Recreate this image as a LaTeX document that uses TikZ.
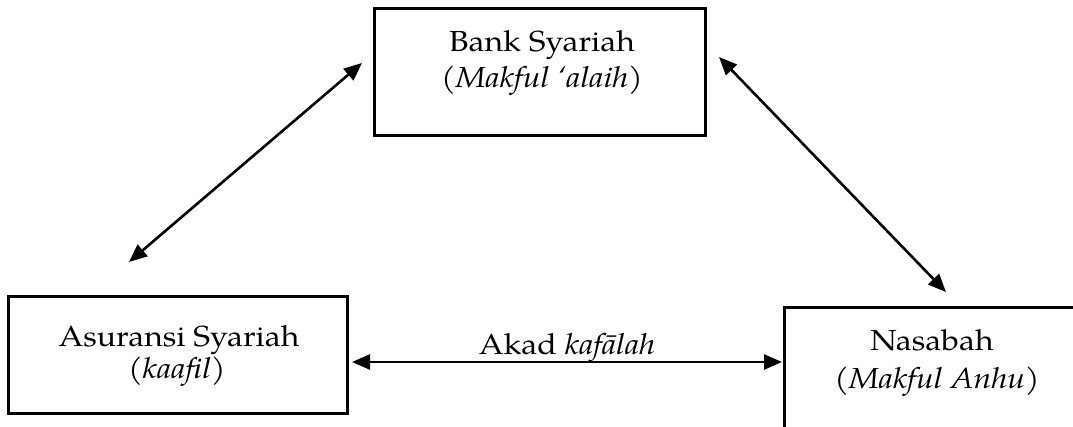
\documentclass[tikz,border=0pt]{standalone}
\usepackage{fontspec}
\setmainfont{TeX Gyre Pagella}[FakeStretch=1.1]
\usetikzlibrary{arrows.meta}
\begin{document}
\begin{tikzpicture}[x=1pt,y=-1pt,
  box/.style={draw,line width=3pt,minimum width=#1,inner sep=0pt},
  txt/.style={anchor=base,inner sep=0pt,font=\fontsize{29}{34}\selectfont},
  link/.style={line width=2.6pt,{Triangle[length=18pt,width=15pt]}-{Triangle[length=18pt,width=15pt]}}]
\useasboundingbox (0,0) rectangle (1073,426);
\fill[white] (0,0) rectangle (1073,426);
\node[box=331pt,minimum height=127pt] (bank) at (539.5,71.5) {};
\node[box=339pt,minimum height=117pt] (asur) at (177.5,354.5) {};
\node[box=320pt,minimum height=150pt] (nasa) at (944,382) {};
\node[txt] (b1) at (542,51) {Bank Syariah};
\node[txt] (b2) at (542,87) {(\textit{Makful ‘alaih)}};
\node[txt] (a1) at (179,346) {Asuransi Syariah};
\node[txt] (a2) at (177,378) {(\textit{kaafil)}};
\node[txt] (n1) at (932,350) {Nasabah};
\node[txt] (n2) at (937,388) {\textit{(Makful Anhu)}};
\node[txt] (akad) at (567,354) {Akad \textit{kafālah}};
\coordinate (l1) at (129,262);
\coordinate (l2) at (362,63);
\coordinate (r1) at (719,57);
\coordinate (r2) at (946,292);
\coordinate (h1) at (352,362);
\coordinate (h2) at (782,362);
\draw[link] (l1) -- (l2);
\draw[link] (r1) -- (r2);
\draw[link] (h1) -- (h2);
\end{tikzpicture}
\end{document}
